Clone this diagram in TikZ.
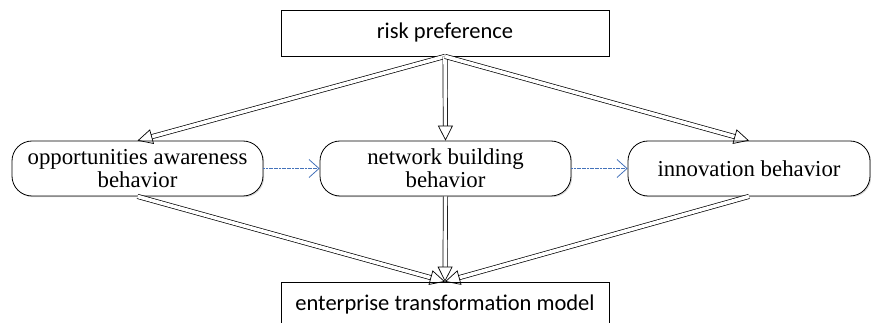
\documentclass[tikz,border=0pt]{standalone}
\usepackage{fontspec}
\setmainfont{Liberation Serif}
\newfontfamily\calibri{Carlito}
\usetikzlibrary{arrows.meta,shadows}

\definecolor{linkblue}{RGB}{68,114,186}

\tikzset{%
  % Specifications for style of nodes:
         level/.style = {rectangle, draw = black, line width=0.8pt, minimum width=328pt, minimum height=46pt, fill=white, font=\calibri\fontsize{22.5}{26}\selectfont, drop shadow={shadow xshift=1.2pt, shadow yshift=-1.2pt, fill=black!30}},
         act/.style = {rectangle, rounded corners=20pt, draw = black, line width=0.8pt, minimum height=55pt, fill=white, align=center, font=\fontsize{22.8}{23}\selectfont, drop shadow={shadow xshift=1.2pt, shadow yshift=-1.2pt, fill=black!30}},
  % Specifications for style of arrows:
         flow/.style = {double, double distance=3.6pt, line width=0.7pt, -{Triangle[open, length=15pt, width=15pt]}},
         link/.style = {draw=linkblue, line width=0.8pt, dash pattern=on 2pt off 0.6pt, -{Straight Barb[length=10pt, width=18pt, line width=0.8pt]}},
}

\begin{document}
\begin{tikzpicture}[x=1pt, y=-1pt]
    \useasboundingbox (0,0) rectangle (871,323);
    % Draw nodes
    \node (risk)   [level]                         at (445,33)    {risk preference};
    \node (opp)    [act, minimum width=251pt]      at (137.5,168.5) {opportunities awareness\\behavior};
    \node (net)    [act, minimum width=251pt]      at (445.5,168.5) {network building\\behavior};
    \node (innov)  [act, minimum width=242pt]      at (749,168.5)  {innovation behavior};
    \node (model)  [level]                         at (445,305)   {enterprise transformation model};

    % Draw arrows
    \draw[flow]    (risk.south) -- (opp.north);
    \draw[flow]    (risk.south) -- (net.north);
    \draw[flow]    (risk.south) -- (innov.north);
    \draw[flow]    (opp.south) -- (model.north);
    \draw[flow]    (net.south) -- (model.north);
    \draw[flow]    (innov.south) -- (model.north);

    \draw[link]    (opp.east) -- (net.west);
    \draw[link]    (net.east) -- (innov.west);
\end{tikzpicture}
\end{document}
